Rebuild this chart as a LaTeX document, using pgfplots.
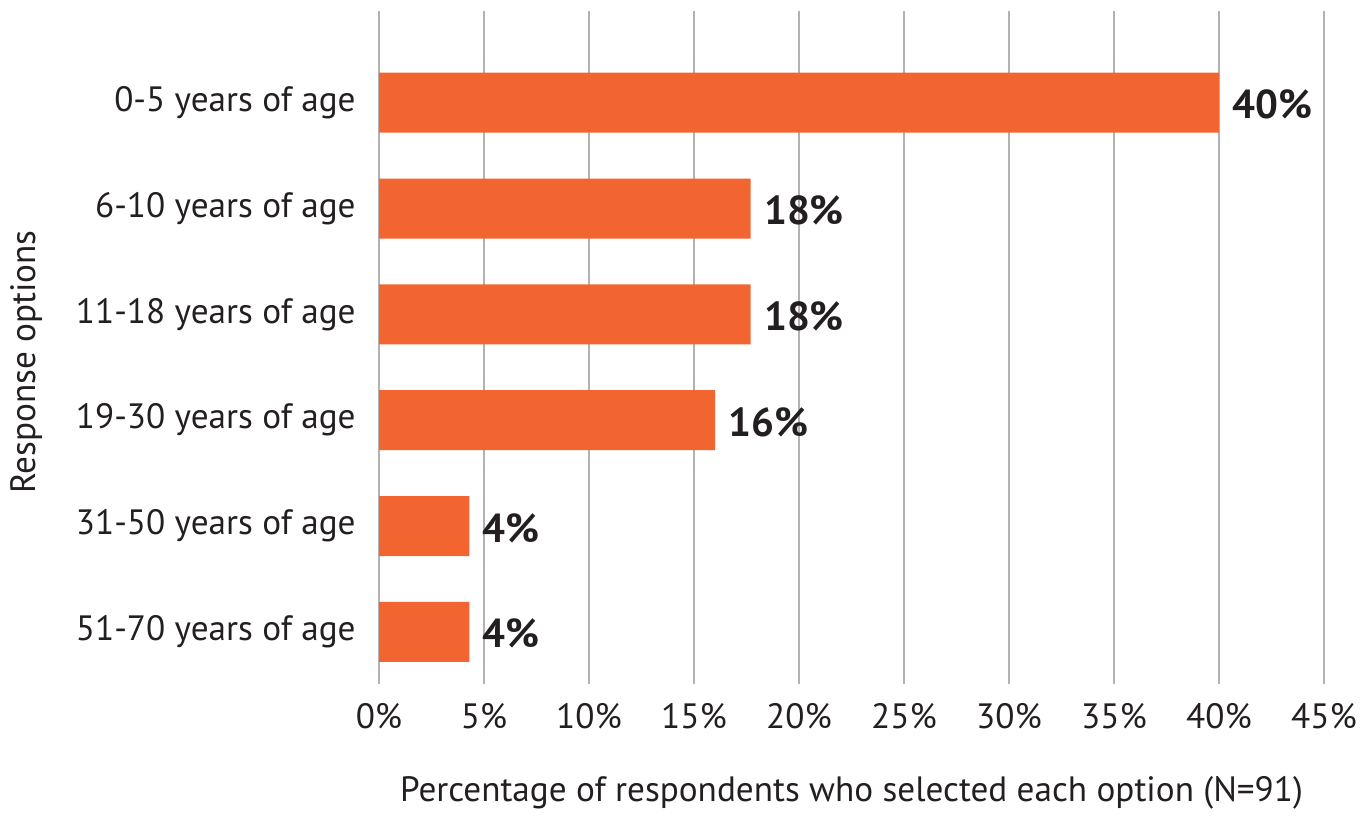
\documentclass[border=0pt]{standalone}
\usepackage{fontspec}
\setmainfont{PT Sans}
\usepackage{pgfplots}
\pgfplotsset{compat=1.18}

\definecolor{barorange}{RGB}{242,101,48}
\definecolor{gridgray}{RGB}{178,178,182}
\definecolor{txt}{RGB}{35,31,32}

% idx 0 = bottom category
\pgfplotstableread{
idx val lab
0 4.3 4
1 4.3 4
2 16.0 16
3 17.7 18
4 17.7 18
5 40.0 40
}\agedata

\begin{document}
\begin{tikzpicture}
  \begin{axis}[
    scale only axis,
    width=472.5pt,
    height=336.5pt,
    xbar,
    bar width=30pt,
    xmin=0, xmax=45,
    ymin=-0.493, ymax=5.867,
    clip=false,
    axis line style={draw=none},
    major tick length=0pt,
    xtick={0,5,...,45},
    xticklabels={0\%,5\%,10\%,15\%,20\%,25\%,30\%,35\%,40\%,45\%},
    ytick={0,1,2,3,4,5},
    yticklabels={51-70 years of age,31-50 years of age,19-30 years of age,11-18 years of age,6-10 years of age,0-5 years of age},
    xmajorgrids=true,
    grid style={gridgray, line width=0.8pt},
    tick label style={font=\fontsize{17.6}{20}\selectfont, text=txt},
    xticklabel style={anchor=north, inner sep=0pt, yshift=-9.5pt},
    yticklabel style={anchor=east, inner sep=0pt, xshift=-11.5pt},
    xlabel={Percentage of respondents who selected each option (N=91)},
    ylabel={Response options},
    label style={font=\fontsize{17.6}{20}\selectfont, text=txt},
    xlabel style={at={(axis description cs:0.5,-0.1753)}, anchor=base},
    ylabel style={at={(axis description cs:-0.3725,0.4785)}, anchor=center},
    point meta=explicit symbolic,
    nodes near coords={\pgfplotspointmeta\%},
    nodes near coords style={font=\bfseries\fontsize{20.2}{23}\selectfont, text=txt, anchor=west, inner sep=0pt, xshift=6.5pt, yshift=-1pt},
  ]
  \addplot[fill=barorange, draw=none] table[x=val, y=idx, meta=lab] {\agedata};
  % page margins
  \path (rel axis cs:0,0) ++(-189.5pt,-64pt);
  \path (rel axis cs:1,1) ++(20.5pt,5.5pt);
  \end{axis}
\end{tikzpicture}
\end{document}
